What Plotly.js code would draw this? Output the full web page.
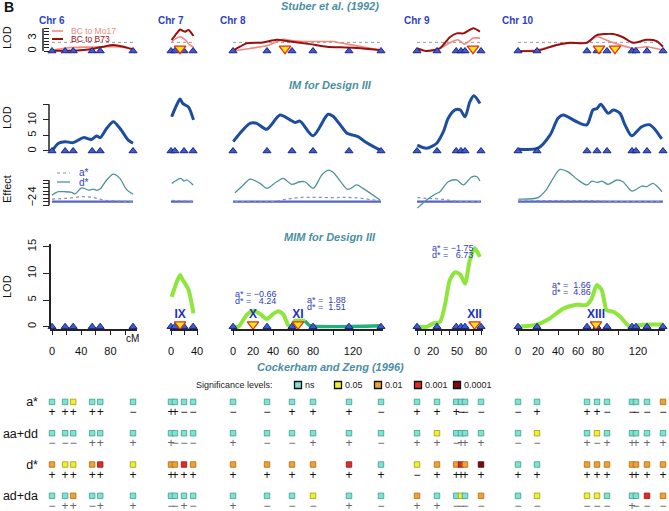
<!DOCTYPE html>
<html><head><meta charset="utf-8">
<script src="https://cdn.plot.ly/plotly-3.0.1.min.js"></script>
<style>html,body{margin:0;padding:0;background:#fff;}#chart{width:669px;height:511px;}</style>
</head><body><div id="chart"></div>
<script>
// ================= DATA =================
const chrNames = ['Chr 6', 'Chr 7', 'Chr 8', 'Chr 9', 'Chr 10'];
const markers = [
  [0, 18, 29, 55, 66, 111],
  [0, 6, 20, 34],
  [0, 34, 59, 80, 116, 148],
  [0, 25, 49, 55, 60, 80],
  [0, 19, 69, 79, 89, 114, 118, 129, 145]
];
// Stuber et al. (1992) LOD profiles
const mo17CM = [
  [0, 20, 43, 57, 70, 84, 98, 111],
  [1, 8.7, 14, 21.8, 29, 34.6],
  [0, 17, 33.7, 50, 60, 73.7, 100, 107, 123.7, 147],
  [0.4, 12, 28.7, 41, 51, 59.6, 70.4, 78.7],
  [0.3, 18.7, 38.7, 52, 68.7, 78.7, 92, 102, 115, 128.7, 145]
];
const mo17Lod = [
  [0.2, 0.7, 0.9, 0.9, 1.0, 1.0, 0.8, 0.3],
  [2.2, 3.0, 3.3, 2.6, 1.4, 0.9],
  [0, 0.6, 1.2, 2.7, 2.4, 2.2, 2.2, 1.9, 1.2, 0.2],
  [0.23, 0, 0.62, 1.9, 2.6, 1.6, 3.0, 3.0],
  [0, 0.23, 1.4, 1.8, 2.0, 3.3, 2.2, 1.4, 0.62, 1.0, 0.23]
];
const b73CM = [
  [0, 20, 43, 57, 70, 84, 98, 111],
  [1, 8.7, 14, 18, 21.8, 27, 34.6],
  [0, 7, 13.7, 30, 43.7, 57, 77, 93.7, 113.7, 130, 147],
  [0.4, 12, 28.7, 41, 49.6, 58, 70.4, 78.7],
  [0.3, 18.7, 38.7, 52, 68.7, 78.7, 95, 105, 115, 128.7, 138.7, 145]
];
const b73Lod = [
  [0.08, 0.08, 0.23, 0.54, 1.0, 1.4, 1.0, 0.39],
  [2.56, 4.1, 5.0, 4.7, 4.5, 4.9, 3.5],
  [0.08, 1.0, 1.8, 2.0, 2.6, 2.2, 1.6, 1.0, 0.8, 0.6, 0.23],
  [0.62, 0, 0.62, 3.2, 4.1, 4.1, 5.3, 4.5],
  [0, 0, 1.4, 1.9, 1.9, 3.7, 3.95, 3.2, 1.9, 2.6, 2.3, 1.0]
];
const stuberThreshold = 2;
const stuberQtlChr = [1, 2, 3, 4, 4];
const stuberQtlPos = [14, 52, 70, 81, 97];

// IM for Design III
const imCM = [
  [0, 9, 18, 29, 43, 54, 61, 66, 75, 84, 93, 104.5, 111],
  [1, 8.7, 14, 18, 21.8, 27, 34.6],
  [0.3, 7, 17, 23.7, 33.7, 47, 57, 62, 67, 80, 95, 100, 107, 114, 120, 125, 132, 147],
  [0.4, 12, 24.6, 33, 39, 47.5, 54, 60, 66, 71, 78.7],
  [0.3, 20, 32, 40, 45, 58.7, 68.7, 75, 79, 82.7, 90.3, 95.3, 102, 107, 113.7, 123.7, 132, 143.7]
];
const imLod = [
  [0, 2.5, 3.0, 2.7, 4.3, 3.7, 4.8, 4.3, 7.3, 9.4, 7.3, 3.5, 2.5],
  [11.0, 14.8, 16.7, 15.3, 14.8, 14.1, 10.0],
  [3.0, 5.7, 8.9, 8.9, 7.0, 11.6, 10.0, 9.2, 9.6, 4.9, 11.8, 11.2, 8.5, 5.7, 5.1, 4.6, 3.0, 0.3],
  [1.9, 0.9, 2.5, 6.2, 10.5, 13.2, 13.2, 11.0, 15.8, 17.8, 15.3],
  [0.6, 0.9, 5.1, 10.5, 11.6, 9.4, 8.4, 13.2, 13.7, 15.0, 12.1, 13.2, 12.1, 8.4, 4.9, 7.8, 8.4, 3.9]
];
// Effects
const dCM = [
  [0, 9, 18, 27, 31.5, 40.6, 49.8, 56.6, 61, 65.8, 74.9, 84, 93, 102, 111],
  [1, 9, 15, 20, 24, 34],
  [2, 10.3, 17, 27, 33.7, 43.7, 50.3, 58.7, 67, 72, 80.3, 88.7, 95.3, 100, 104, 108, 115, 123.7, 130, 147],
  [0.4, 12, 22.5, 28.7, 39, 49.6, 58, 68.5, 75, 78.7],
  [0.3, 20, 28, 35, 42, 50, 60, 69, 74, 79, 84, 90, 99, 105, 114, 124, 129, 135, 144]
];
const dEff = [
  [1.7, 3.6, 3.6, 3.2, 2.4, 5.8, 4.5, 5.1, 4.4, 5.1, 10.2, 13.5, 11.1, 4.9, 2.2],
  [8.3, 10.2, 11.1, 9.6, 10.2, 7.4],
  [3.0, 7.4, 10.7, 8.3, 5.5, 9.2, 11.1, 7.7, 9.2, 9.2, 5.5, 12.9, 15.7, 14.5, 12, 9.0, 4.9, 7.4, 5.5, -1.0],
  [-5.6, -1.0, 2.2, 3.6, 9.2, 10.2, 7.4, 12.0, 12.0, 9.6],
  [-0.5, 0.3, 4.5, 11, 16.1, 14.8, 10.2, 7.4, 9.6, 8.8, 9.6, 7.7, 10.2, 9.2, 4.0, 6.8, 6.5, 8.3, 3.6]
];
const aCM = [
  [0, 20, 43, 57, 70, 84, 111],
  [1, 15, 34],
  [2, 40, 50, 65, 100, 120, 147],
  [0.4, 12, 28.7, 49.6, 78.7],
  [0.3, 80, 90, 145]
];
const aEff = [
  [-0.5, -0.1, 0.8, 0.3, -1.0, -1.5, -1.9],
  [-1.3, -1.5, -1.8],
  [-1.9, -1.9, -1.0, 0.3, 0.3, 0.3, -1.5],
  [0.3, -0.1, -0.5, -1.7, -1.9],
  [-1.5, -1.5, -1.9, -1.9]
];
const effBase = -2;

// MIM for Design III
const mimCM = [
  [],
  [1, 6.2, 11.3, 14, 18, 21.8, 27, 34.6],
  [0, 5.3, 13.7, 20.3, 27, 33.7, 40.3, 45.3, 50.3, 55.3, 58.7, 60, 62, 72],
  [0, 12, 20.4, 28.7, 35, 41, 47.5, 54, 60, 66, 72, 78.7],
  [0, 18.7, 32, 45.3, 58.7, 68.7, 73.7, 78.7, 83.7, 88.7, 95.3, 102, 112, 122, 132, 145]
];
const mimLod = [
  [],
  [5.6, 7.5, 9.1, 9.7, 8.75, 8.1, 6.9, 2.5],
  [0, 0, 2.2, 3.0, 2.4, 1.45, 2.4, 2.9, 2.3, 0.3, 0, 0.6, 1.1, 1.1],
  [0, 0, 0.6, 0.9, 4.1, 8.75, 10.2, 9.8, 8.1, 12.5, 14.7, 13.1],
  [0, 0.4, 1.6, 3.4, 4.1, 4.1, 5.3, 7.8, 6.9, 3.1, 2.8, 1.9, 0, 0.3, 0.4, 0.4]
];
const mimXICM = [72, 77, 148];
const mimXILod = [1.1, 0.2, 0.2];
const qtlNames = ['IX', 'X', 'XI', 'XII', 'XIII'];
const qtlChr = [1, 2, 2, 3, 4];
const qtlPos = [14, 20, 65, 72, 78];
const qtlA = ['a*=\u22120.74', 'a* = \u22120.66', 'a* =  1.88', 'a* = \u22121.75', 'a* =  1.66'];
const qtlD = ['d*=  5.54', 'd* =   4.24', 'd* =  1.51', 'd* =   6.73', 'd* =  4.86'];

// Cockerham and Zeng (1996) tests, one entry per marker (chr 6..10 in order)
const sigLevels = ['ns', '0.05', '0.01', '0.001', '0.0001'];
const gridRows = ['a*', 'aa+dd', 'd*', 'ad+da'];
const sigA = ['ns','ns','0.05','ns','ns','ns', 'ns','ns','ns','ns', 'ns','ns','ns','ns','ns','ns', 'ns','ns','ns','ns','ns','ns', 'ns','ns','ns','ns','ns','ns','ns','ns','0.01'];
const signA = ['+','+','+','+','+','\u2212', '+','+','\u2212','\u2212', '\u2212','\u2212','+','+','+','\u2212', '+','+','+','\u2212','\u2212','\u2212', '\u2212','+','+','+','\u2212','\u2212','\u2212','\u2212','\u2212'];
const sigAADD = ['ns','ns','ns','ns','ns','ns', 'ns','ns','ns','ns', 'ns','ns','ns','ns','ns','ns', 'ns','0.05','ns','ns','ns','ns', 'ns','0.05','ns','0.05','ns','ns','ns','ns','ns'];
const signAADD = ['\u2212','\u2212','\u2212','+','+','+', '+','\u2212','\u2212','\u2212', '+','\u2212','\u2212','+','+','\u2212', '+','+','\u2212','+','+','+', '\u2212','\u2212','+','\u2212','+','+','+','+','+'];
const sigD = ['0.01','0.05','0.05','0.01','0.001','0.05', '0.01','0.01','0.001','0.01', '0.01','0.01','0.01','0.01','0.001','ns', '0.05','0.01','0.01','0.001','0.01','0.0001', 'ns','ns','0.01','0.01','0.01','0.01','0.01','0.01','0.01'];
const signD = ['+','+','+','+','+','+', '+','+','+','+', '+','+','+','+','+','+', '\u2212','+','+','+','+','+', '+','+','+','+','+','+','+','+','+'];
const sigADDA = ['ns','ns','0.01','ns','ns','ns', 'ns','ns','ns','ns', 'ns','ns','ns','0.05','ns','ns', '0.01','ns','ns','0.05','ns','0.01', 'ns','0.05','0.05','0.05','ns','ns','ns','0.001','0.01'];
const signADDA = ['\u2212','+','+','\u2212','+','+', '\u2212','\u2212','+','\u2212', '+','\u2212','\u2212','\u2212','+','\u2212', '+','+','\u2212','\u2212','\u2212','\u2212', '\u2212','\u2212','\u2212','\u2212','\u2212','+','\u2212','\u2212','\u2212'];

// ================= LAYOUT GEOMETRY =================
const W = 669, H = 511;
const X = px => px / W;
const Y = py => 1 - py / H;
const FONT = 'Liberation Sans, Arial, Helvetica, sans-serif';
const geo = [
  {px0: 52,  s: 0.73, r: [-3, 117], dt: 20, max: 100, lab: [0, 40, 80]},
  {px0: 171, s: 0.65, r: [-2, 41],  dt: 20, max: 40,  lab: [0, 40]},
  {px0: 233, s: 1.0,  r: [-2, 150], dt: 20, max: 140, lab: [0, 20, 40, 60, 80, 120]},
  {px0: 417, s: 0.8,  r: [-2, 82],  dt: 10, max: 80,  lab: [0, 20, 50, 80]},
  {px0: 518, s: 1.0,  r: [-2, 147], dt: 20, max: 140, lab: [0, 20, 40, 60, 80, 120]}
];
const rowGeo = {
  st:  {zero: 51,     ppu: 4.3,  r: [-0.3, 5.6]},
  im:  {zero: 151,    ppu: 3.11, r: [-0.5, 18.5]},
  ef:  {zero: 198.14, ppu: 1.78, r: [-6.5, 17]},
  mim: {zero: 326.7,  ppu: 5.33, r: [-0.49, 15.45]}
};
const rowDomain = g => [Y(g.zero - g.r[0] * g.ppu), Y(g.zero - g.r[1] * g.ppu)];
const xDomain = g => [X(g.px0 + g.s * g.r[0]), X(g.px0 + g.s * g.r[1])];
const xa = k => k === 0 ? 'x' : 'x' + (k + 1);

const C = {
  mo17: '#f08a80', b73: '#9a0e0e', im: '#1c4d9e', d: '#4e9399', a: '#8090c0',
  base: '#5565c4', mim: '#8ee63c', xi: '#20b27a', mk: '#3d5bd6', mkLine: '#1a2580',
  qFill: '#ffe81a', qLine: '#e0301a', txt: '#3040bb', teal: '#4b8fa3'
};
const sigFill = {'ns': '#80e2d0', '0.05': '#f0f030', '0.01': '#f0a035', '0.001': '#e02a2a', '0.0001': '#800a0a'};
const sigEdge = {'ns': '#3c9e8c', '0.05': '#9c9c14', '0.01': '#a86c14', '0.001': '#901414', '0.0001': '#3c0000'};

// ================= TRACES =================
const traces = [];
const markerTrace = (k, yaxis) => ({
  x: markers[k], y: markers[k].map(() => 0), xaxis: xa(k), yaxis, mode: 'markers', cliponaxis: false,
  marker: {symbol: 'triangle-up', size: 7, color: C.mk, line: {color: C.mkLine, width: 1}}
});
let offset = 0;
const markerOffset = [];
markers.forEach(m => { markerOffset.push(offset); offset += m.length; });

for (let k = 0; k < 5; k++) {
  const x = xa(k);
  const m = markers[k];
  const mmax = m[m.length - 1];
  // Stuber
  traces.push({x: [m[0], mmax], y: [stuberThreshold, stuberThreshold], xaxis: x, yaxis: 'y', mode: 'lines', line: {color: '#9a9a9a', width: 1, dash: 'dot'}});
  traces.push({x: mo17CM[k], y: mo17Lod[k], xaxis: x, yaxis: 'y', mode: 'lines', line: {color: C.mo17, width: 1.6, shape: 'spline', smoothing: 0.6}});
  traces.push({x: b73CM[k], y: b73Lod[k], xaxis: x, yaxis: 'y', mode: 'lines', line: {color: C.b73, width: 2, shape: 'spline', smoothing: 0.6}});
  traces.push(markerTrace(k, 'y'));
  const sq = stuberQtlPos.filter((p, i) => stuberQtlChr[i] === k);
  if (sq.length) traces.push({x: sq, y: sq.map(() => 0.55), xaxis: x, yaxis: 'y', mode: 'markers', cliponaxis: false,
    marker: {symbol: 'triangle-down', size: 10, color: C.qFill, line: {color: C.qLine, width: 1.3}}});
  // IM
  traces.push({x: imCM[k], y: imLod[k], xaxis: x, yaxis: 'y2', mode: 'lines', line: {color: C.im, width: 3, shape: 'spline', smoothing: 0.8}});
  traces.push(markerTrace(k, 'y2'));
  // Effects
  traces.push({x: [m[0], mmax], y: [effBase, effBase], xaxis: x, yaxis: 'y3', mode: 'lines', line: {color: C.base, width: 2.2}});
  traces.push({x: aCM[k], y: aEff[k], xaxis: x, yaxis: 'y3', mode: 'lines', line: {color: C.a, width: 1.2, dash: 'dot', shape: 'spline'}});
  traces.push({x: dCM[k], y: dEff[k], xaxis: x, yaxis: 'y3', mode: 'lines', line: {color: C.d, width: 1.3, shape: 'spline', smoothing: 0.8}});
  // MIM
  if (mimCM[k].length) traces.push({x: mimCM[k], y: mimLod[k], xaxis: x, yaxis: 'y4', mode: 'lines', line: {color: C.mim, width: 4, shape: 'spline', smoothing: 0.7}});
  if (k === 2) traces.push({x: mimXICM, y: mimXILod, xaxis: x, yaxis: 'y4', mode: 'lines', line: {color: C.xi, width: 3.5, shape: 'spline', smoothing: 0.5}});
  traces.push(markerTrace(k, 'y4'));
  const qi = qtlChr.map((c, i) => c === k ? i : -1).filter(i => i >= 0);
  if (qi.length) {
    traces.push({x: qi.map(i => qtlPos[i]), y: qi.map(() => 0.45), xaxis: x, yaxis: 'y4', mode: 'markers', cliponaxis: false,
      marker: {symbol: 'triangle-down', size: 10, color: C.qFill, line: {color: C.qLine, width: 1.3}}});
    traces.push({x: qi.map(i => qtlPos[i]), y: qi.map(() => 2.2), xaxis: x, yaxis: 'y4', mode: 'text', cliponaxis: false,
      text: qi.map(i => '<b>' + qtlNames[i] + '</b>'), textfont: {family: FONT, size: 12, color: '#2233bb'}});
  }
  // Grid
  const o = markerOffset[k], n = m.length;
  const rowsSig = [sigA, sigAADD, sigD, sigADDA];
  const rowsSign = [signA, signAADD, signD, signADDA];
  const signCol = ['#111111', '#666666', '#111111', '#666666'];
  for (let r = 0; r < 4; r++) {
    const sg = rowsSig[r].slice(o, o + n);
    traces.push({x: m, y: m.map(() => r), xaxis: x, yaxis: 'y5', mode: 'markers', cliponaxis: false,
      marker: {symbol: 'square', size: 5.5, color: sg.map(s => sigFill[s]), line: {color: sg.map(s => sigEdge[s]), width: 0.8}}});
    traces.push({x: m, y: m.map(() => r + 0.36), xaxis: x, yaxis: 'y5', mode: 'text', cliponaxis: false,
      text: rowsSign[r].slice(o, o + n), textfont: {family: FONT, size: 12, color: m.map(() => signCol[r])}});
  }
}

// ================= LAYOUT =================
const layout = {
  width: W, height: H, margin: {l: 0, r: 0, t: 0, b: 0},
  paper_bgcolor: '#fff', plot_bgcolor: 'rgba(0,0,0,0)', showlegend: false, hovermode: false,
  font: {family: FONT, size: 11, color: '#111'},
  annotations: [], shapes: []
};
geo.forEach((g, k) => {
  const key = k === 0 ? 'xaxis' : 'xaxis' + (k + 1);
  const tv = [];
  for (let t = 0; t <= g.max; t += g.dt) tv.push(t);
  layout[key] = {
    domain: xDomain(g), range: g.r, anchor: 'y4', showgrid: false, zeroline: false,
    showline: true, linecolor: '#222', linewidth: 1.3, ticks: 'outside', ticklen: 4, tickcolor: '#222',
    tickvals: tv, ticktext: tv.map(t => g.lab.includes(t) ? String(t) : ''), ticklabelstandoff: 7,
    tickfont: {size: 11, color: '#111'}
  };
  layout.annotations.push({xref: xa(k), yref: 'paper', x: 0, y: Y(21), text: '<b>' + chrNames[k] + '</b>',
    showarrow: false, font: {size: 10, color: '#2f3fc4'}, xanchor: 'center', yanchor: 'middle'});
});
const yBase = {anchor: 'free', showgrid: false, zeroline: false, tickangle: -90, tickfont: {size: 11, color: '#111'}};
layout.yaxis = Object.assign({}, yBase, {domain: rowDomain(rowGeo.st), range: rowGeo.st.r, position: X(43),
  showline: false, ticks: 'inside', ticklen: 5, tickcolor: '#222',
  tickvals: [0, 0.75, 1.5, 2.25, 3, 3.75, 4.5, 5.25], ticktext: ['0', '', '', '', '3', '', '', ''], ticklabelstandoff: 5});
layout.yaxis2 = Object.assign({}, yBase, {domain: rowDomain(rowGeo.im), range: rowGeo.im.r, position: X(49),
  showline: false, ticks: 'outside', ticklen: 6, tickcolor: '#222', tickvals: [0, 5, 10, 15], ticktext: ['0', '5', '10', ''], ticklabelstandoff: 3});
layout.yaxis3 = Object.assign({}, yBase, {domain: rowDomain(rowGeo.ef), range: rowGeo.ef.r, position: X(49),
  showline: false, ticks: 'outside', ticklen: 6, tickcolor: '#222', tickvals: [-4, -2, 0, 2, 4, 6, 8, 10], ticktext: ['', '\u22122', '', '', '4', '', '', ''], ticklabelstandoff: 3});
layout.yaxis4 = Object.assign({}, yBase, {domain: rowDomain(rowGeo.mim), range: rowGeo.mim.r, position: X(49),
  showline: true, linecolor: '#222', linewidth: 1.5, ticks: 'outside', ticklen: 6, tickcolor: '#222', tickvals: [0, 5, 10, 15], ticklabelstandoff: 3});
layout.yaxis5 = {anchor: 'free', position: X(38), domain: [0, Y(375)], range: [3.485, -0.86], showgrid: false, zeroline: false,
  showline: false, ticks: '', tickvals: [0, 1, 2, 3], ticktext: gridRows, tickfont: {size: 12.5, color: '#111'}};

// axis lines for rows whose data overflow the axis extent
const axLine = (xpx, yref, y0, y1) => ({type: 'line', xref: 'paper', yref, x0: X(xpx), x1: X(xpx), y0, y1, line: {color: '#222', width: 1.5}});
layout.shapes.push(axLine(43, 'y', 0, 5.3), axLine(49, 'y2', 0, 15), axLine(49, 'y3', -4, 10));

const ann = (x, y, text, opts) => layout.annotations.push(Object.assign({xref: 'paper', yref: 'paper', x: X(x), y: Y(y), text, showarrow: false, xanchor: 'center', yanchor: 'middle'}, opts || {}));
ann(9, 7, '<b>B</b>', {font: {size: 14, color: '#111'}});
ann(330, 6, '<b><i>Stuber et al. (1992)</i></b>', {font: {size: 11, color: C.teal}});
ann(330, 85, '<b><i>IM for Design III</i></b>', {font: {size: 11, color: C.teal}});
ann(330, 237, '<b><i>MIM for Design III</i></b>', {font: {size: 11, color: C.teal}});
ann(330, 367, '<b><i>Cockerham and Zeng (1996)</i></b>', {font: {size: 11, color: C.teal}});
ann(7, 38, 'LOD', {textangle: -90, font: {size: 11}});
ann(7, 118, 'LOD', {textangle: -90, font: {size: 11}});
ann(7, 189, 'Effect', {textangle: -90, font: {size: 11}});
ann(7, 287, 'LOD', {textangle: -90, font: {size: 11}});
ann(132, 338, 'cM', {font: {size: 10}});
// Stuber legend
layout.shapes.push({type: 'line', xref: 'paper', yref: 'paper', x0: X(52), x1: X(63), y0: Y(31), y1: Y(31), line: {color: C.mo17, width: 1.6}});
layout.shapes.push({type: 'line', xref: 'paper', yref: 'paper', x0: X(52), x1: X(63), y0: Y(39), y1: Y(39), line: {color: C.b73, width: 2}});
ann(69, 31, 'BC to Mo17', {xanchor: 'left', font: {size: 8.5, color: C.mo17}});
ann(69, 39, 'BC to B73', {xanchor: 'left', font: {size: 8.5, color: C.b73}});
// Effect legend
layout.shapes.push({type: 'line', xref: 'paper', yref: 'paper', x0: X(57), x1: X(70), y0: Y(173), y1: Y(173), line: {color: C.a, width: 1.2, dash: 'dot'}});
layout.shapes.push({type: 'line', xref: 'paper', yref: 'paper', x0: X(57), x1: X(70), y0: Y(182), y1: Y(182), line: {color: C.d, width: 1.3}});
ann(77, 173, 'a*', {xanchor: 'left', font: {size: 10, color: C.txt}});
ann(77, 182, 'd*', {xanchor: 'left', font: {size: 10, color: C.txt}});
// MIM QTL effect labels
const qtlLabelAt = [[-6.6, 12.5], [0, 6.1], [72, 5.0], [16, 14.7], [32, 7.8]];
const lineGap = 7;
qtlNames.forEach((q, i) => {
  const k = qtlChr[i];
  const [lx, ly] = qtlLabelAt[i];
  layout.annotations.push({xref: xa(k), yref: 'y4', x: lx, y: ly, text: qtlA[i].replace(/ /g, '\u00a0'), showarrow: false, xanchor: 'left', yanchor: 'middle', font: {size: 9, color: C.txt}});
  layout.annotations.push({xref: xa(k), yref: 'y4', x: lx, y: ly - lineGap / rowGeo.mim.ppu, text: qtlD[i].replace(/ /g, '\u00a0'), showarrow: false, xanchor: 'left', yanchor: 'middle', font: {size: 9, color: C.txt}});
});
// Significance legend
ann(234, 385, 'Significance levels:', {font: {size: 9, color: '#222'}});
const legX = [298, 338, 378, 418, 457];
sigLevels.forEach((s, i) => {
  layout.shapes.push({type: 'rect', xref: 'paper', yref: 'paper', x0: X(legX[i] - 3.5), x1: X(legX[i] + 3.5), y0: Y(388.5), y1: Y(381.5), fillcolor: sigFill[s], line: {color: '#111', width: 1.3}});
  ann(legX[i] + 5, 385, s, {xanchor: 'left', font: {size: 9, color: '#222'}});
});

Plotly.newPlot('chart', traces, layout, {staticPlot: true, displayModeBar: false});
</script></body></html>
